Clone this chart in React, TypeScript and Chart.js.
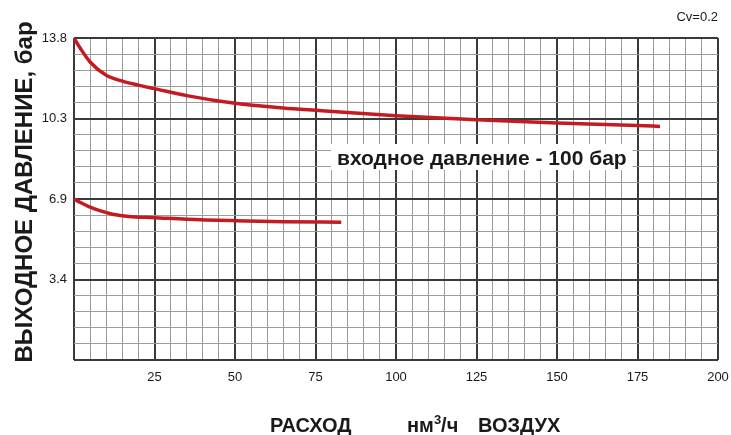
import React, { useEffect, useRef } from 'react';
import { Chart, registerables } from 'chart.js';

Chart.register(...registerables);

// ---- data ----
const upperX = [0, 2, 5, 10, 15, 20, 25, 35, 50, 65, 75, 100, 125, 150, 175, 182];
const upperY = [13.8, 13.35, 12.77, 12.2, 11.95, 11.78, 11.63, 11.33, 11.0, 10.8, 10.7, 10.47, 10.3, 10.16, 10.05, 10.01];
const lowerX = [0, 2, 5, 8, 12, 17, 25, 35, 50, 65, 83];
const lowerY = [6.9, 6.75, 6.55, 6.4, 6.25, 6.15, 6.1, 6.03, 5.97, 5.93, 5.9];
const xTickLabels = ['25', '50', '75', '100', '125', '150', '175', '200'];
const yTickLabels = ['3.4', '6.9', '10.3', '13.8'];
const xMax = 200;
const xStep = 5;
const yMax = 13.8;
const yStep = 0.69;

const yTitle = 'ВЫХОДНОЕ ДАВЛЕНИЕ, бар';
const annotation = 'входное давление - 100 бар';
const cvText = 'Cv=0.2';

const RED = '#c41b22';
const MINOR = '#9c9c9c';
const MAJOR = '#3a3a3a';
const TEXT = '#1a1a1a';
const FONT = '"Liberation Sans", Arial, sans-serif';

const textPlugin = {
  id: 'texts',
  afterDraw(chart: any) {
    const ctx = chart.ctx as CanvasRenderingContext2D;
    ctx.save();
    // annotation with white box
    ctx.font = `bold 21px ${FONT}`;
    const w = ctx.measureText(annotation).width;
    ctx.fillStyle = '#ffffff';
    ctx.fillRect(331, 144, w + 12, 26);
    ctx.fillStyle = TEXT;
    ctx.textAlign = 'left';
    ctx.textBaseline = 'alphabetic';
    ctx.fillText(annotation, 337, 165);

    // Cv
    ctx.font = `13px ${FONT}`;
    ctx.textAlign = 'right';
    ctx.fillText(cvText, 718, 21);

    // x title
    ctx.textAlign = 'left';
    ctx.font = `bold 20px ${FONT}`;
    ctx.fillText('РАСХОД', 270, 432);
    let x = 407;
    ctx.fillText('нм', x, 432);
    x += ctx.measureText('нм').width;
    ctx.font = `bold 13px ${FONT}`;
    ctx.fillText('3', x, 424);
    x += ctx.measureText('3').width;
    ctx.font = `bold 20px ${FONT}`;
    ctx.fillText('/ч', x, 432);
    ctx.fillText('ВОЗДУХ', 478, 432);

    // y title
    ctx.translate(32, 192);
    ctx.rotate(-Math.PI / 2);
    ctx.font = `bold 24px ${FONT}`;
    ctx.textAlign = 'center';
    ctx.fillText(yTitle, 0, 0);
    ctx.restore();
  },
};

export default function App() {
  const ref = useRef<HTMLCanvasElement | null>(null);
  useEffect(() => {
    if (!ref.current) return;
    const chart = new Chart(ref.current, {
      type: 'line',
      data: {
        datasets: [
          {
            data: upperX.map((v, i) => ({ x: v, y: upperY[i] })),
            borderColor: RED,
            borderWidth: 3.5,
            pointRadius: 0,
            cubicInterpolationMode: 'monotone',
            fill: false,
          },
          {
            data: lowerX.map((v, i) => ({ x: v, y: lowerY[i] })),
            borderColor: RED,
            borderWidth: 3.5,
            pointRadius: 0,
            cubicInterpolationMode: 'monotone',
            fill: false,
          },
        ],
      },
      options: {
        animation: false,
        responsive: false,
        devicePixelRatio: 1,
        layout: { padding: { top: 38, right: 13, left: 0, bottom: 0 } },
        plugins: { legend: { display: false }, tooltip: { enabled: false }, title: { display: false } },
        scales: {
          x: {
            type: 'linear',
            min: 0,
            max: xMax,
            afterBuildTicks: (scale: any) => {
              const n = Math.round(xMax / xStep);
              scale.ticks = Array.from({ length: n + 1 }, (_, i) => ({ value: i * xStep }));
            },
            afterFit: (scale: any) => {
              scale.height = 75;
              scale.paddingLeft = 0;
              scale.paddingRight = 0;
            },
            border: { display: false },
            grid: {
              drawTicks: false,
              color: (c: any) => (c.index % 5 === 0 ? MAJOR : MINOR),
              lineWidth: (c: any) => (c.index % 5 === 0 ? 2 : 1),
            },
            ticks: {
              autoSkip: false,
              maxRotation: 0,
              padding: 10,
              color: TEXT,
              font: { family: FONT, size: 13 },
              callback: (_v: any, index: number) =>
                index > 0 && index % 5 === 0 ? xTickLabels[index / 5 - 1] : '',
            },
          },
          y: {
            type: 'linear',
            min: 0,
            max: yMax,
            afterBuildTicks: (scale: any) => {
              const n = Math.round(yMax / yStep);
              scale.ticks = Array.from({ length: n + 1 }, (_, i) => ({ value: i * yStep }));
            },
            afterFit: (scale: any) => {
              scale.width = 74;
              scale.paddingTop = 0;
              scale.paddingBottom = 0;
            },
            border: { display: false },
            grid: {
              drawTicks: false,
              color: (c: any) => (c.index % 5 === 0 ? MAJOR : MINOR),
              lineWidth: (c: any) => (c.index % 5 === 0 ? 2 : 1),
            },
            ticks: {
              autoSkip: false,
              padding: 7,
              color: TEXT,
              font: { family: FONT, size: 13 },
              callback: (_v: any, index: number) =>
                index > 0 && index % 5 === 0 ? yTickLabels[index / 5 - 1] : '',
            },
          },
        },
      },
      plugins: [textPlugin],
    } as any);
    return () => chart.destroy();
  }, []);
  return (
    <div style={{ position: 'fixed', left: 0, top: 0, width: 731, height: 435, background: '#fff' }}>
      <canvas ref={ref} width={731} height={435} style={{ display: 'block', width: 731, height: 435 }} />
    </div>
  );
}
